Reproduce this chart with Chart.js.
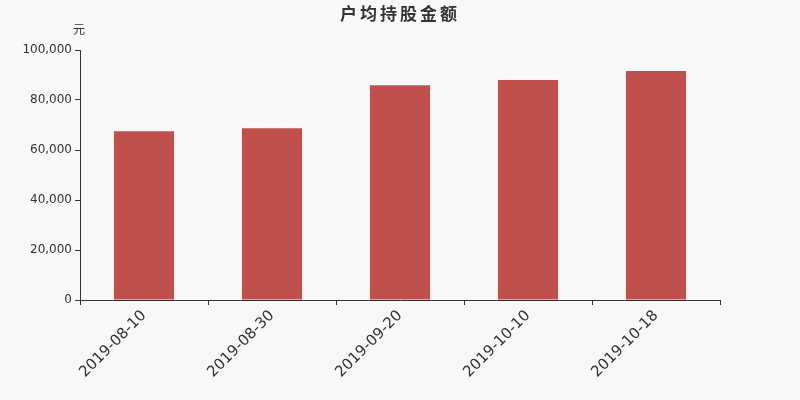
<!DOCTYPE html>
<html>
<head>
<meta charset="utf-8">
<script src="https://cdn.jsdelivr.net/npm/chart.js@4/dist/chart.umd.min.js"></script>
<style>
  html, body { margin: 0; padding: 0; background: #f8f8f8; }
  #wrap { width: 800px; height: 400px; }
</style>
</head>
<body>
<div id="wrap"><canvas id="chart"></canvas></div>
<script>
// *** data for display ***
const TITLE = "户均持股金额";
const UNIT = "元";
const LABELS = ["2019-08-10", "2019-08-30", "2019-09-20", "2019-10-10", "2019-10-18"];
const VALUES = [67500, 68700, 85900, 88000, 91600];
const Y_MIN = 0, Y_MAX = 100000, Y_STEP = 20000;

const FONT = "'DejaVu Sans', sans-serif";

// title and unit text on top of the plot
const headerText = {
    id: 'headerText',
    afterDraw(chart) {
        const ctx = chart.ctx;
        ctx.save();
        ctx.fillStyle = '#333';
        ctx.textBaseline = 'middle';
        ctx.textAlign = 'center';
        ctx.font = "bold 17px 'Noto Sans CJK SC', sans-serif";
        ctx.letterSpacing = '3px';
        ctx.fillText(TITLE, 400, 14);
        ctx.letterSpacing = '0px';
        ctx.font = "12px 'Noto Sans CJK SC', sans-serif";
        ctx.fillText(UNIT, 79, 29);
        ctx.restore();
    }
};

const ctx = document.getElementById('chart').getContext('2d');
new Chart(ctx, {
    type: 'bar',
    data: {
        labels: LABELS,
        datasets: [{
            data: VALUES,
            backgroundColor: '#c0504d',
            categoryPercentage: 1.0,
            barPercentage: 0.47
        }]
    },
    options: {
        responsive: true,
        maintainAspectRatio: false,
        animation: false,
        layout: { padding: { top: 50, right: 80, left: 0, bottom: 0 } },
        plugins: {
            legend: { display: false },
            title: { display: false },
            tooltip: { enabled: false }
        },
        scales: {
            x: {
                offset: true,
                grid: { offset: true, drawOnChartArea: false, tickLength: 5, color: '#333' },
                border: { color: '#333' },
                ticks: { color: '#333', font: { family: FONT, size: 15 }, minRotation: 45, maxRotation: 45, padding: 2 },
                afterFit(scale) { scale.height = 100; }
            },
            y: {
                min: Y_MIN,
                max: Y_MAX,
                grid: { drawOnChartArea: false, tickLength: 5, color: '#333' },
                border: { color: '#333' },
                ticks: {
                    stepSize: Y_STEP,
                    color: '#333',
                    font: { family: FONT, size: 12 },
                    padding: 3,
                    callback: v => v.toLocaleString('en-US')
                },
                afterFit(scale) { scale.width = 80; }
            }
        }
    },
    plugins: [headerText]
});
</script>
</body>
</html>
